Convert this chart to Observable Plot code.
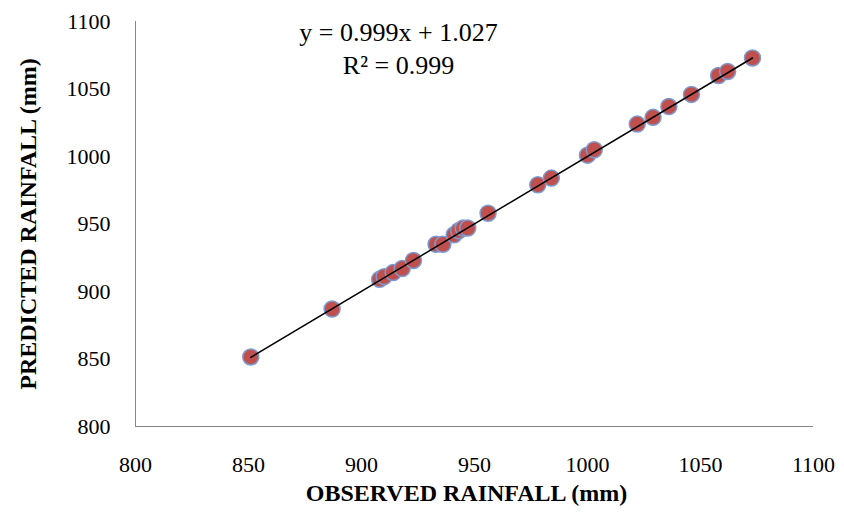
<!DOCTYPE html>
<html>
<head>
<meta charset="utf-8">
<script src="https://cdn.jsdelivr.net/npm/d3@7"></script>
<script src="https://cdn.jsdelivr.net/npm/@observablehq/plot@0.6"></script>
<style>
  html, body { margin: 0; padding: 0; background: #fff; }
  #chart { width: 844px; height: 522px; }
</style>
</head>
<body>
<div id="chart"></div>
<script>
const observed  = [851, 887, 908, 910, 914, 918, 923, 933, 936, 941, 943, 945, 947, 956, 978, 984, 1000, 1003, 1022, 1029, 1036, 1046, 1058, 1062, 1073];
const predicted = [851.5, 887, 909, 911, 914, 917, 923, 935, 935, 942, 945, 947, 947, 958, 979, 984, 1001, 1005, 1024, 1029, 1037, 1046, 1060, 1063, 1073];
const xTicks = [800, 850, 900, 950, 1000, 1050, 1100];
const yTicks = [800, 850, 900, 950, 1000, 1050, 1100];
const slope = 0.999;
const intercept = 1.027;
const rSquared = 0.999;
const xTitle = "OBSERVED RAINFALL (mm)";
const yTitle = "PREDICTED RAINFALL (mm)";

const points = observed.map((o, i) => ({obs: o, pred: predicted[i]}));
const xMin = d3.min(observed), xMax = d3.max(observed);
const trend = [xMin, xMax].map(x => ({obs: x, pred: slope * x + intercept}));
const eqLines = [`y = ${slope}x + ${intercept}`, `R² = ${rSquared}`];

const font = "'Liberation Serif', 'Times New Roman', serif";

const chart = Plot.plot({
  width: 844,
  height: 522,
  marginLeft: 135,
  marginRight: 31,
  marginTop: 21,
  marginBottom: 96,
  style: {fontFamily: font, background: "#fff", color: "#000"},
  x: {domain: [800, 1100]},
  y: {domain: [800, 1100]},
  marks: [
    Plot.axisX({ticks: xTicks, tickSize: 0, tickPadding: 30, fontSize: 22, label: null, tickFormat: d => String(d)}),
    Plot.axisY({ticks: yTicks, tickSize: 0, tickPadding: 25, fontSize: 22, label: null, tickFormat: d => String(d)}),
    Plot.ruleX([800], {stroke: "#868686", strokeWidth: 1}),
    Plot.ruleY([800], {stroke: "#868686", strokeWidth: 1}),
    Plot.dot(points, {x: "obs", y: "pred", r: 8, fill: "#C0504D", stroke: "#7b9bd1", strokeWidth: 1.5}),
    Plot.line(trend, {x: "obs", y: "pred", stroke: "#000", strokeWidth: 1.5}),
    Plot.text([eqLines.join("\n")], {frameAnchor: "top", dx: -76, dy: -3, fontSize: 26, lineHeight: 1.24, textAnchor: "middle", lineAnchor: "top", fill: "#000"}),
    Plot.text([xTitle], {frameAnchor: "bottom", dx: -8, dy: 74, fontSize: 24, fontWeight: "bold", textAnchor: "middle", fill: "#000"}),
    Plot.text([yTitle], {frameAnchor: "left", dx: -107, dy: 0, rotate: -90, fontSize: 24, fontWeight: "bold", textAnchor: "middle", fill: "#000"})
  ]
});
document.getElementById("chart").appendChild(chart);
</script>
</body>
</html>
